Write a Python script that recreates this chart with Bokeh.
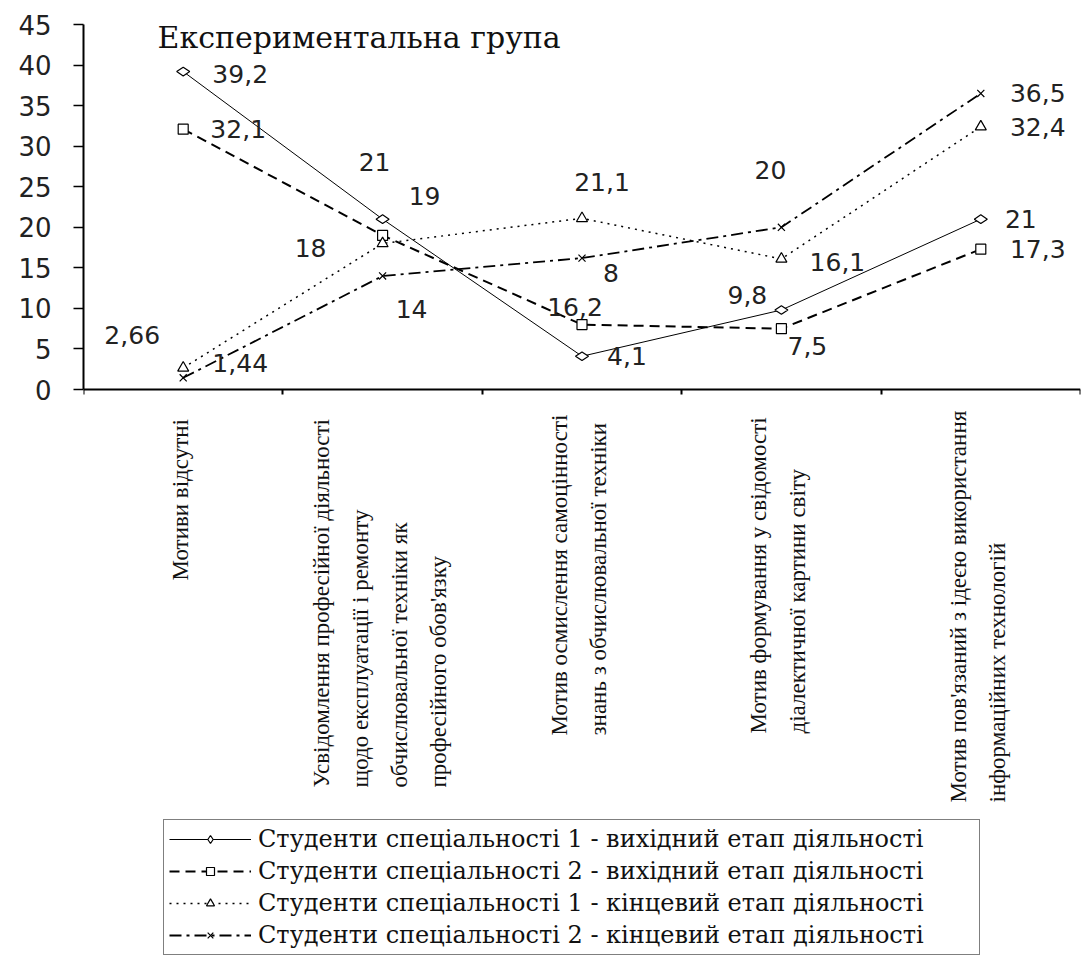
import math
from bokeh.plotting import figure
from bokeh.models import (Range1d, FixedTicker, Label, Legend, LegendItem,
                          ColumnDataSource, LinearAxis)
from bokeh.embed import file_html
from bokeh.resources import INLINE
from bokeh.core.properties import value

# ---------------- data ----------------
categories = [
    ["Мотиви відсутні"],
    ["Усвідомлення професійної діяльності", "щодо експлуатації і ремонту",
     "обчислювальної техніки як", "професійного обов'язку"],
    ["Мотив осмислення самоцінності", "знань з обчислювальної техніки"],
    ["Мотив формування у свідомості", "діалектичної картини світу"],
    ["Мотив пов'язаний з ідеєю використання", "інформаційних технологій"],
]
series_names = [
    "Студенти спеціальності 1 - вихідний етап діяльності",
    "Студенти спеціальності 2 - вихідний етап діяльності",
    "Студенти спеціальності 1 - кінцевий етап діяльності",
    "Студенти спеціальності 2 - кінцевий етап діяльності",
]
s1_initial = [39.2, 21, 4.1, 9.8, 21]
s2_initial = [32.1, 19, 8, 7.5, 17.3]
s1_final = [2.66, 18, 21.1, 16.1, 32.4]
s2_final = [1.44, 14, 16.2, 20, 36.5]
y_ticks = [0, 5, 10, 15, 20, 25, 30, 35, 40, 45]
y_max = 45
chart_title = "Експериментальна група"

# ---------------- layout / styles (pixels) ----------------
W, H = 1082, 956
FRAME_LEFT, FRAME_RIGHT = 83, 1080
FRAME_TOP, ZERO_Y = 24, 389
PX_PER_UNIT = (ZERO_Y - FRAME_TOP) / y_max
PX_PER_CAT = (FRAME_RIGHT - FRAME_LEFT) / len(categories)
y_min = -(H - ZERO_Y) / PX_PER_UNIT          # frame extends down to hold labels + legend

label_offsets = [
    [(57, 2), (-8, -57), (45, 0), (-34, -15), (40, 0)],
    [(55, 0), (42, -39), (29, -52), (26, 17), (57, 0)],
    [(-51, -33), (-72, 4), (20, -36), (56, 3), (57, 0)],
    [(57, -15), (29, 33), (-7, 49), (-11, -57), (57, 0)],
]
styles = [
    dict(dash="solid", width=1.0, marker="diamond", angle=math.pi / 2, size=13),
    dict(dash="10 6", width=2.0, marker="square", angle=0, size=10),
    dict(dash="2 5", width=1.5, marker="triangle", angle=0, size=11),
    dict(dash="12 5 3 5", width=1.8, marker="x", angle=0, size=10),
]
cat_label_start_px = [580, 787, 735, 733, 802]   # page y where rotated text starts

def fmt(v):
    if float(v).is_integer():
        return str(int(v))
    return str(v).replace(".", ",")

xs = list(range(1, len(categories) + 1))

p = figure(width=W, height=H,
           x_range=Range1d(0.5, len(xs) + 0.5), y_range=Range1d(y_min, y_max),
           output_backend="svg", toolbar_location=None,
           x_axis_location=None, y_axis_location=None,
           min_border_left=FRAME_LEFT, min_border_right=W - FRAME_RIGHT,
           min_border_top=FRAME_TOP, min_border_bottom=0)
p.xgrid.visible = False
p.ygrid.visible = False
p.outline_line_color = None
p.background_fill_color = "white"
p.border_fill_color = "white"

# y axis, limited to 0..45
yax = LinearAxis(bounds=(0, y_max), ticker=FixedTicker(ticks=y_ticks))
yax.major_tick_out = 10
yax.major_tick_in = 0
yax.minor_tick_out = 0
yax.minor_tick_in = 0
yax.axis_line_width = 2
yax.major_tick_line_width = 1.5
yax.major_label_standoff = 22
yax.major_label_text_font = "DejaVu Sans"
yax.major_label_text_font_size = "26px"
yax.major_label_text_color = "#222222"
p.add_layout(yax, "left")

# x axis drawn at y = 0 with ticks at category boundaries pointing down
bounds_ticks = [x - 0.5 for x in xs] + [xs[-1] + 0.5]
xax = LinearAxis(fixed_location=0, ticker=FixedTicker(ticks=bounds_ticks))
xax.major_label_overrides = {t: "" for t in bounds_ticks}
xax.major_tick_out = 0
xax.major_tick_in = 5
xax.minor_tick_out = 0
xax.minor_tick_in = 0
xax.axis_line_width = 2
xax.major_tick_line_width = 2
xax.axis_line_color = "black"
p.add_layout(xax, "above")

all_series = [s1_initial, s2_initial, s1_final, s2_final]
legend_items = []
for vals, st, name, offs in zip(all_series, styles, series_names, label_offsets):
    src = ColumnDataSource(dict(
        x=xs, y=vals, label=[fmt(v) for v in vals],
        dx=[o[0] for o in offs], dy=[o[1] for o in offs]))
    lr = p.line("x", "y", source=src, line_color="black",
                line_width=st["width"], line_dash=st["dash"])
    sr = p.scatter("x", "y", source=src, marker=st["marker"], size=st["size"],
                   angle=st["angle"], fill_color="white", line_color="black",
                   line_width=1.2)
    p.text("x", "y", text="label", source=src, x_offset="dx", y_offset="dy",
           text_align="center", text_baseline="middle",
           text_font=value("DejaVu Sans"), text_font_size="25px",
           text_color="#222222")
    legend_items.append(LegendItem(label=name, renderers=[lr, sr]))

# title inside plot area
p.add_layout(Label(x=0.5 + (157 - FRAME_LEFT) / PX_PER_CAT, y=(ZERO_Y - 37) / PX_PER_UNIT,
                   text=chart_title,
                   text_font="DejaVu Serif", text_font_size="30px",
                   text_align="left", text_baseline="alphabetic",
                   text_color="#111111"))

# rotated category labels below the axis
LINE_GAP = 39
for x, lines, start_px in zip(xs, categories, cat_label_start_px):
    n = len(lines)
    y_start = -(start_px - ZERO_Y) / PX_PER_UNIT
    for i, line in enumerate(lines):
        p.add_layout(Label(x=x, y=y_start, text=line, angle=math.pi / 2,
                           x_offset=(i - (n - 1) / 2) * LINE_GAP - 3,
                           text_align="left", text_baseline="middle",
                           text_font="Liberation Serif", text_font_size="23px",
                           text_color="#111111"))

legend = Legend(items=legend_items, location=(163 - FRAME_LEFT, 1))
legend.border_line_color = "black"
legend.border_line_width = 1.5
legend.background_fill_color = "white"
legend.background_fill_alpha = 1
legend.padding = 5
legend.margin = 0
legend.spacing = 4
legend.glyph_width = 82
legend.glyph_height = 20
legend.label_height = 20
legend.label_width = 716
legend.label_standoff = 7
legend.label_text_font = "DejaVu Serif"
legend.label_text_font_size = "24px"
legend.label_text_baseline = "middle"
legend.label_text_color = "#111111"
p.add_layout(legend)

open("out.html", "w").write(file_html(p, INLINE))
